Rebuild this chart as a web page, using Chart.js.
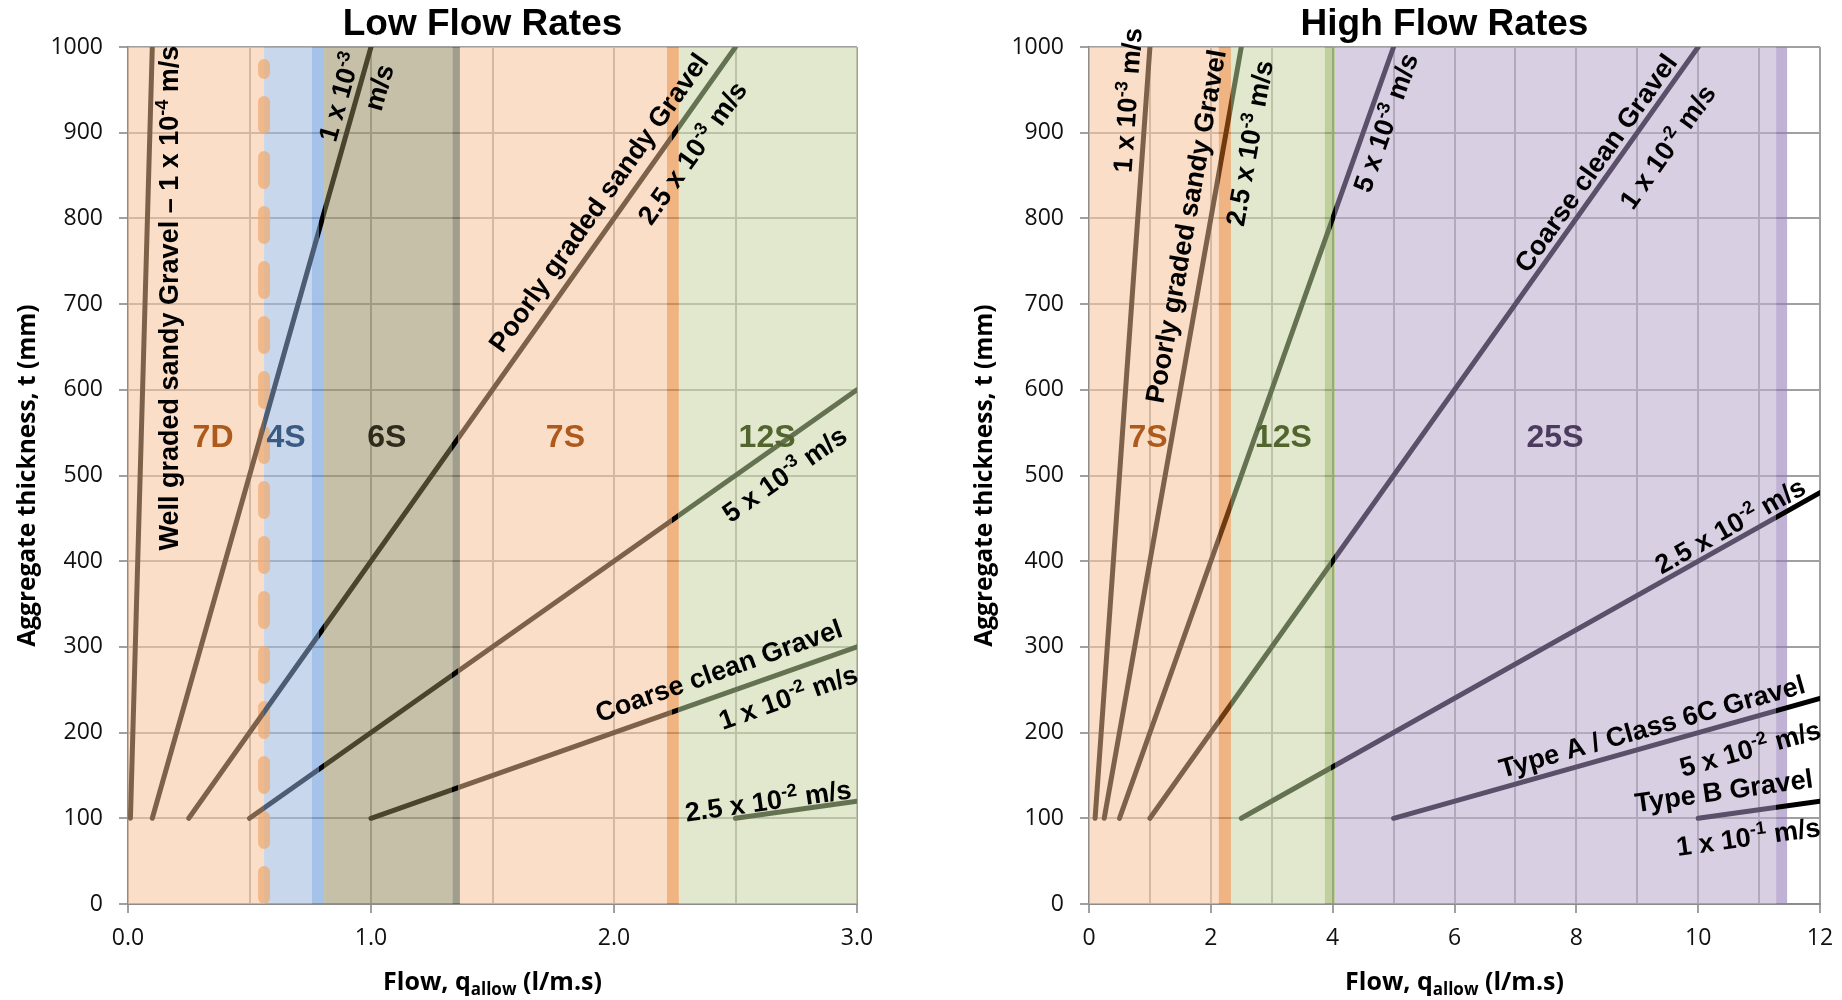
<!DOCTYPE html>
<html>
<head>
<meta charset="utf-8">
<script src="https://cdn.jsdelivr.net/npm/chart.js@4/dist/chart.umd.min.js"></script>
<style>
  body { margin: 0; background: #fff; width: 1842px; height: 1000px; overflow: hidden; position: relative; }
  canvas { position: absolute; top: 0; }
  #low { left: 0; }
  #high { left: 920px; }
</style>
</head>
<body>
<canvas id="low" width="920" height="1000"></canvas>
<canvas id="high" width="922" height="1000"></canvas>
<script>
// ---- Low Flow Rates (left) ----
// each line: flow q (l/m.s) against thickness t (mm)
const lowQ = [[0.01, 0.1], [0.1, 1.0], [0.25, 2.5], [0.5, 3.0], [1.0, 3.0], [2.5, 3.0]];
const lowT = [[100, 1000], [100, 1000], [100, 1000], [100, 600], [100, 300], [100, 120]];
const lowZoneNames = ['7D', '4S', '6S', '7S', '12S'];
const lowZoneLabelQ = [0.35, 0.65, 1.065, 1.8, 2.63];
const lowDashQ = 0.56;

// ---- High Flow Rates (right) ----
const highQ = [[0.1, 1.0], [0.25, 2.5], [0.5, 5], [1, 10], [2.5, 12], [5, 12], [10, 12]];
const highT = [[100, 1000], [100, 1000], [100, 1000], [100, 1000], [100, 480], [100, 240], [100, 120]];
const highZoneNames = ['7S', '12S', '25S'];
const highZoneLabelQ = [0.97, 3.19, 7.65];

const zoneLabelT = 547;

// text along the lines (centre in q, t)
const lowNotes = [
  { text: 'Well graded sandy Gravel – 1 x 10^{-4} m/s', line: 0, q: 0.165, t: 707, angle: -90 },
  { text: '1 x 10^{-3}', line: 1, q: 0.868, t: 942 },
  { text: 'm/s', line: 1, q: 1.03, t: 953 },
  { text: 'Poorly graded sandy Gravel', line: 2, q: 1.934, t: 819 },
  { text: '2.5 x 10^{-3} m/s', line: 2, q: 2.32, t: 877 },
  { text: '5 x 10^{-3} m/s', line: 3, q: 2.70, t: 502 },
  { text: 'Coarse clean Gravel', line: 4, q: 2.43, t: 273 },
  { text: '1 x 10^{-2} m/s', line: 4, q: 2.716, t: 242 },
  { text: '2.5 x 10^{-2} m/s', line: 5, q: 2.634, t: 121 }
];
const highNotes = [
  { text: '1 x 10^{-3} m/s', line: 0, q: 0.624, t: 938 },
  { text: 'Poorly graded sandy Gravel', line: 1, q: 1.576, t: 791 },
  { text: '2.5 x 10^{-3} m/s', line: 1, q: 2.626, t: 888 },
  { text: '5 x 10^{-3} m/s', line: 2, q: 4.86, t: 912 },
  { text: 'Coarse clean Gravel', line: 3, q: 8.31, t: 865 },
  { text: '1 x 10^{-2} m/s', line: 3, q: 9.49, t: 884 },
  { text: '2.5 x 10^{-2} m/s', line: 4, q: 10.52, t: 442 },
  { text: 'Type A / Class 6C Gravel', line: 5, q: 9.24, t: 208 },
  { text: '5 x 10^{-2} m/s', line: 5, q: 10.85, t: 182 },
  { text: 'Type B Gravel', line: 6, q: 10.42, t: 133 },
  { text: '1 x 10^{-1} m/s', line: 6, q: 10.82, t: 79 }
];

// ---- styles ----
const ORANGE = [250, 222, 200], ORANGE_D = [240, 180, 130];
const BLUE = [200, 215, 235], BLUE_D = [165, 195, 232];
const KHAKI = [199, 192, 168], KHAKI_D = [160, 158, 140];
const GREEN = [225, 232, 205], GREEN_D = [192, 207, 158];
const PURPLE = [217, 207, 227], PURPLE_D = [192, 178, 212];

const BROWN = '#7d6148', SLATE = '#4b5c73', OLIVE = '#48442d', MOSS = '#647252', PLUM = '#5a5069', RUST = '#6e3a10';

const lowFills = [[0, 0.56, ORANGE], [0.56, 0.757, BLUE], [0.757, 0.807, BLUE_D], [0.807, 1.335, KHAKI],
  [1.335, 1.366, KHAKI_D], [1.366, 2.218, ORANGE], [2.218, 2.267, ORANGE_D], [2.267, 3.0, GREEN]];
const highFills = [[0, 2.13, ORANGE], [2.13, 2.33, ORANGE_D], [2.33, 3.87, GREEN], [3.87, 4.04, GREEN_D],
  [4.04, 11.28, PURPLE], [11.28, 11.46, PURPLE_D]];
const lowLineSegs = [[0, 0.56, BROWN], [0.56, 0.785, SLATE], [0.785, 0.807, '#000'], [0.807, 1.335, OLIVE],
  [1.335, 1.36, '#000'], [1.36, 2.24, BROWN], [2.24, 2.265, '#000'], [2.265, 3, MOSS]];
const highLineSegs = [[0, 2.13, BROWN], [2.13, 2.33, RUST], [2.33, 3.98, MOSS], [3.98, 4.04, '#000'],
  [4.04, 11.28, PLUM], [11.28, 12, '#000']];
const lowZoneColors = ['#ad5a1c', '#3a5a82', '#2e2a1c', '#ad5a1c', '#52652f'];
const highZoneColors = ['#ad5a1c', '#52652f', '#4b3c5f'];

const GRID = 'rgb(160,160,160)';
const AXIS = 'rgb(140,140,140)';
const ARIAL = '"Liberation Sans", Arial, sans-serif';
const CAL = '"Open Sans", "Noto Sans", sans-serif';

// fill drawn over the grid, tuned so it looks like rgb over white
function veil(rgb, a = 0.6) {
  const c = rgb.map(v => Math.round((v - 255 * (1 - a)) / a));
  return `rgba(${c.join(',')},${a})`;
}

function lineGradient(chart, segs) {
  const area = chart.chartArea;
  const xs = chart.scales.x;
  if (!area || !xs) return BROWN;
  const x0 = xs.getPixelForValue(xs.min), x1 = xs.getPixelForValue(xs.max);
  const g = chart.ctx.createLinearGradient(x0, 0, x1, 0);
  const span = xs.max - xs.min;
  segs.forEach(s => {
    g.addColorStop(Math.min(1, Math.max(0, (s[0] - xs.min) / span)), s[2]);
    g.addColorStop(Math.min(1, Math.max(0, (s[1] - xs.min) / span)), s[2]);
  });
  return g;
}

// text with ^{sup} and _{sub}, centred at x,y, rotated
function drawRich(ctx, str, x, y, angle, size, color, family) {
  const parts = [];
  const re = /([\^_])\{([^}]*)\}/g;
  let last = 0, m;
  while ((m = re.exec(str))) {
    if (m.index > last) parts.push({ t: str.slice(last, m.index), k: 0 });
    parts.push({ t: m[2], k: m[1] === '^' ? 1 : -1 });
    last = re.lastIndex;
  }
  if (last < str.length) parts.push({ t: str.slice(last), k: 0 });
  const big = `bold ${size}px ${family}`;
  const small = `bold ${Math.round(size * 0.66)}px ${family}`;
  ctx.save();
  ctx.translate(x, y);
  ctx.rotate(angle * Math.PI / 180);
  ctx.fillStyle = color;
  ctx.textBaseline = 'alphabetic';
  ctx.textAlign = 'left';
  let w = 0;
  parts.forEach(p => { ctx.font = p.k ? small : big; p.w = ctx.measureText(p.t).width; w += p.w; });
  let cx = -w / 2;
  const base = size * 0.36;
  parts.forEach(p => {
    ctx.font = p.k ? small : big;
    const dy = p.k === 1 ? -size * 0.38 : (p.k === -1 ? size * 0.2 : 0);
    ctx.fillText(p.t, cx, base + dy);
    cx += p.w;
  });
  ctx.restore();
}

function makeDecor(cfg) {
  return {
    id: 'decor',
    beforeDatasetsDraw(chart) {
      const { ctx, chartArea: a } = chart;
      const x = chart.scales.x;
      ctx.save();
      ctx.beginPath();
      ctx.rect(a.left, a.top, a.width, a.height);
      ctx.clip();
      cfg.fills.forEach(f => {
        const x0 = x.getPixelForValue(f[0]), x1 = x.getPixelForValue(f[1]);
        ctx.fillStyle = veil(f[2]);
        ctx.fillRect(x0, a.top, x1 - x0, a.height);
      });
      if (cfg.dashQ != null) {
        const dx = x.getPixelForValue(cfg.dashQ);
        ctx.strokeStyle = 'rgba(238,172,118,0.75)';
        ctx.lineWidth = 12;
        ctx.lineCap = 'round';
        ctx.setLineDash([26, 29]);
        ctx.beginPath();
        ctx.moveTo(dx, a.bottom - 6);
        ctx.lineTo(dx, a.top + 18);
        ctx.stroke();
      }
      ctx.restore();
    },
    afterDatasetsDraw(chart) {
      const { ctx } = chart;
      const x = chart.scales.x, y = chart.scales.y;
      cfg.zoneNames.forEach((n, i) => {
        drawRich(ctx, n, x.getPixelForValue(cfg.zoneQ[i]), y.getPixelForValue(zoneLabelT), 0, 32, cfg.zoneColors[i], ARIAL);
      });
      cfg.notes.forEach(n => {
        let ang = n.angle;
        if (ang == null) {
          const q = cfg.q[n.line], t = cfg.t[n.line];
          const ddx = x.getPixelForValue(q[1]) - x.getPixelForValue(q[0]);
          const ddy = y.getPixelForValue(t[1]) - y.getPixelForValue(t[0]);
          ang = Math.atan2(ddy, ddx) * 180 / Math.PI;
        }
        drawRich(ctx, n.text, x.getPixelForValue(n.q), y.getPixelForValue(n.t), ang, 27, '#000', ARIAL);
      });
    },
    afterDraw(chart) {
      const { ctx, chartArea: a } = chart;
      const mid = (a.left + a.right) / 2;
      drawRich(ctx, cfg.title, mid - 10, 22, 0, 37, '#000', ARIAL);
      drawRich(ctx, 'Aggregate thickness, t (mm)', cfg.yTitleX, (a.top + a.bottom) / 2, -90, 24.5, '#000', CAL);
      drawRich(ctx, 'Flow, q_{allow} (l/m.s)', mid, 981, 0, 25, '#000', CAL);
    }
  };
}

function makeChart(id, opts) {
  const datasets = opts.q.map((q, i) => ({
    data: q.map((v, j) => ({ x: v, y: opts.t[i][j] })),
    showLine: true,
    borderWidth: 5,
    borderCapStyle: 'round',
    pointRadius: 0,
    borderColor: (c) => lineGradient(c.chart, opts.segs)
  }));
  return new Chart(document.getElementById(id), {
    type: 'scatter',
    data: { datasets },
    options: {
      responsive: false,
      animation: false,
      devicePixelRatio: 1,
      layout: { padding: { top: 47, right: opts.padRight, left: 0, bottom: 0 } },
      plugins: { legend: { display: false }, tooltip: { enabled: false } },
      scales: {
        x: {
          type: 'linear', min: 0, max: opts.xMax,
          ticks: {
            stepSize: opts.xStep, autoSkip: false, maxRotation: 0, padding: 12,
            color: '#111', font: { family: CAL, size: 23 },
            callback: opts.xLabel
          },
          grid: {
            color: GRID, lineWidth: 2, tickLength: 9,
            tickColor: (c) => (c.tick && opts.xLabel(c.tick.value) !== '') ? GRID : 'rgba(0,0,0,0)'
          },
          border: { color: AXIS, width: 2 },
          afterFit: (s) => { s.height = 96; s.paddingLeft = 0; s.paddingRight = 0; }
        },
        y: {
          min: 0, max: 1000,
          ticks: {
            stepSize: 100, padding: 16, color: '#111', font: { family: CAL, size: 23 },
            callback: (v) => String(v)
          },
          grid: { color: GRID, lineWidth: 2, tickLength: 9, tickColor: GRID },
          border: { color: AXIS, width: 2 },
          afterFit: (s) => { s.width = opts.yWidth; s.paddingTop = 0; s.paddingBottom = 0; }
        }
      }
    },
    plugins: [makeDecor(opts)]
  });
}

makeChart('low', {
  q: lowQ, t: lowT, segs: lowLineSegs, fills: lowFills, dashQ: lowDashQ,
  zoneNames: lowZoneNames, zoneQ: lowZoneLabelQ, zoneColors: lowZoneColors, notes: lowNotes,
  title: 'Low Flow Rates', yTitleX: 26, yWidth: 128, padRight: 63,
  xMax: 3, xStep: 0.5, xLabel: (v) => Number.isInteger(v) ? v.toFixed(1) : ''
});

makeChart('high', {
  q: highQ, t: highT, segs: highLineSegs, fills: highFills, dashQ: null,
  zoneNames: highZoneNames, zoneQ: highZoneLabelQ, zoneColors: highZoneColors, notes: highNotes,
  title: 'High Flow Rates', yTitleX: 63, yWidth: 169, padRight: 22,
  xMax: 12, xStep: 1, xLabel: (v) => v % 2 === 0 ? String(v) : ''
});
</script>
</body>
</html>
